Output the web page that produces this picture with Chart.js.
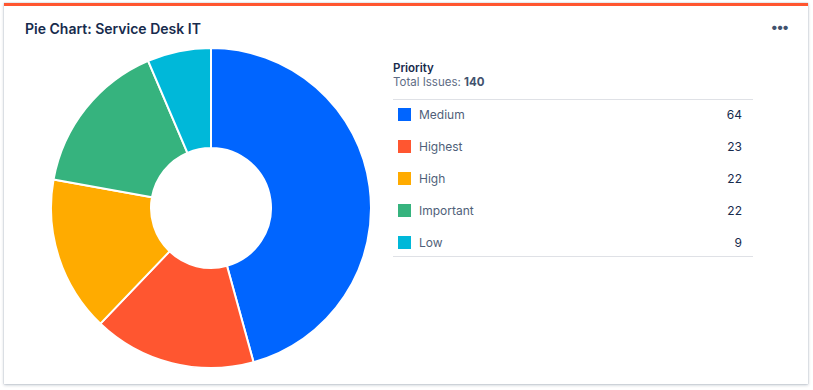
<!DOCTYPE html>
<html>
<head>
<meta charset="utf-8">
<script src="https://cdn.jsdelivr.net/npm/chart.js@4/dist/chart.umd.min.js"></script>
<style>
  html, body { margin: 0; padding: 0; background: #fff; }
  body { width: 813px; height: 390px; position: relative; font-family: Inter, "Noto Sans", sans-serif; color: #172B4D; }
  .card { position: absolute; left: 4px; top: 3px; width: 804px; height: 381px; background: #fff; border-top: 3px solid #FF5630; box-shadow: 0 1px 3px rgba(9,30,66,0.25), 0 0 1px rgba(9,30,66,0.3); box-sizing: border-box; }
  .title { position: absolute; left: 21px; top: 14px; font-size: 14px; font-weight: 600; color: #172B4D; }
  .menu { position: absolute; right: 20px; top: 12px; font-size: 14px; font-weight: 700; color: #42526E; letter-spacing: -1px; }
  .chartBox { position: absolute; left: 46px; top: 41px; width: 322px; height: 322px; }
  .legend { position: absolute; left: 389px; top: 55px; width: 360px; }
  .legend h4 { margin: 0; font-size: 11.5px; font-weight: 600; color: #172B4D; line-height: 14px; }
  .legend .total { font-size: 11.5px; color: #5E6C84; line-height: 14px; }
  .legend .total b { color: #42526E; }
  .legend ul { list-style: none; margin: 10px 0 0 0; padding: 0; border-top: 1px solid #DFE1E6; border-bottom: 1px solid #DFE1E6; }
  .legend li { height: 32px; display: flex; align-items: center; font-size: 12px; color: #505F79; }
  .legend li:first-child { margin-top: -2px; }
  .legend li:last-child { margin-bottom: -2px; }
  .legend .sw { width: 13px; height: 13px; margin-left: 5px; margin-right: 8px; }
  .legend .val { margin-left: auto; margin-right: 11px; color: #172B4D; }
</style>
</head>
<body>
<div class="card">
  <div class="title">Pie Chart: Service Desk IT</div>
  <div class="menu">&bull;&bull;&bull;</div>
  <div class="chartBox"><canvas id="pie"></canvas></div>
  <div class="legend">
    <h4>Priority</h4>
    <div class="total">Total Issues: <b id="total"></b></div>
    <ul id="legendList"></ul>
  </div>
</div>
<script>
const labels = ['Medium', 'Highest', 'High', 'Important', 'Low']
const counts = [64, 23, 22, 22, 9]
const colors = ['#0065FF', '#FF5630', '#FFAB00', '#36B37E', '#00B8D9']

document.getElementById('total').textContent = counts.reduce((a, b) => a + b, 0)
const list = document.getElementById('legendList')
labels.forEach((l, i) => {
  const li = document.createElement('li')
  li.innerHTML = `<span class="sw" style="background:${colors[i]}"></span><span>${l}</span><span class="val">${counts[i]}</span>`
  list.appendChild(li)
})

new Chart(document.getElementById('pie'), {
  type: 'doughnut',
  data: { labels, datasets: [{ data: counts, backgroundColor: colors, borderColor: '#fff', borderWidth: 2 }] },
  options: {
    responsive: true,
    maintainAspectRatio: false,
    animation: false,
    cutout: '37.5%',
    plugins: { legend: { display: false }, tooltip: { enabled: false } }
  }
})
</script>
</body>
</html>
